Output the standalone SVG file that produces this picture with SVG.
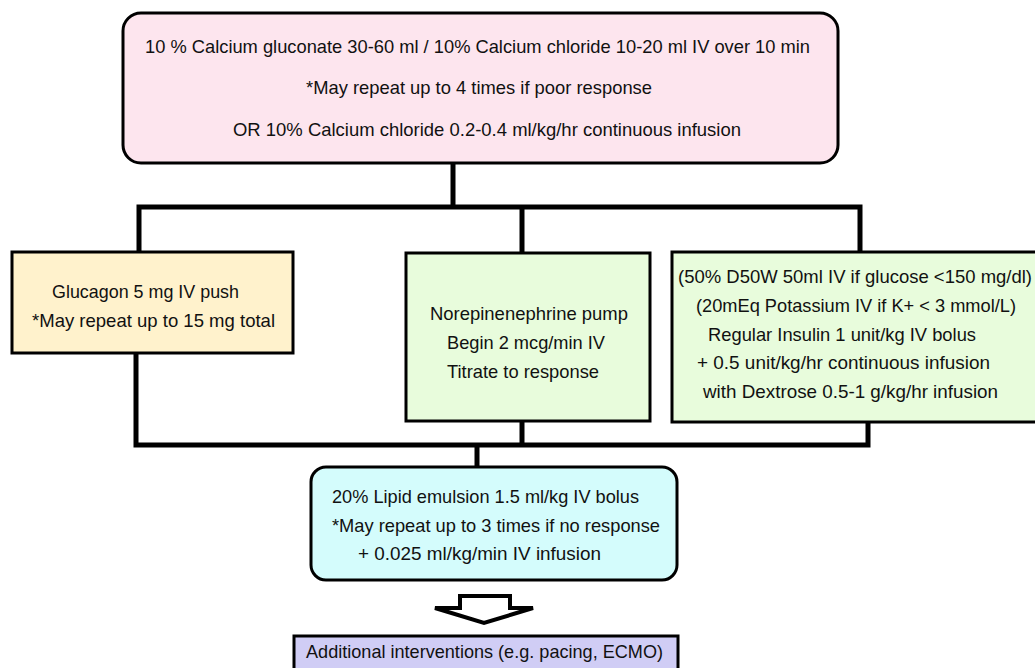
<svg xmlns="http://www.w3.org/2000/svg" width="1035" height="668" viewBox="0 0 1035 668">
<style>
text{font-family:"Liberation Sans",Arial,sans-serif;font-size:18.5px;fill:#111;}
.box{stroke:#000;stroke-width:3;}
.conn{stroke:#000;stroke-width:5;fill:none;stroke-linecap:square;}
</style>
<rect width="1035" height="668" fill="#fff"/>
<g id="connectors">
<path class="conn" d="M453,163 V207 M139,207 H860 M139,207 V252 M522,207 V252 M860,207 V251"/>
<path class="conn" d="M136,353 V445 H868 V421 M522,421 V445 M477,445 V467"/>
<polygon points="460,596 510,596 510,608 533,608 484,623 435,608 460,608" fill="#fff" stroke="#000" stroke-width="4" stroke-linejoin="miter"/>
</g>
<g id="node-calcium">
<rect class="box" x="123" y="13" width="715" height="150" rx="18" fill="#fde5ee"/>
<text x="145" y="53" textLength="665" lengthAdjust="spacingAndGlyphs">10 % Calcium gluconate 30-60 ml / 10% Calcium chloride 10-20 ml IV over 10 min</text>
<text x="306" y="94" textLength="346" lengthAdjust="spacingAndGlyphs">*May repeat up to 4 times if poor response</text>
<text x="233" y="136" textLength="508" lengthAdjust="spacingAndGlyphs">OR 10% Calcium chloride 0.2-0.4 ml/kg/hr continuous infusion</text>
</g>
<g id="node-glucagon">
<rect class="box" x="12" y="252" width="281" height="101" fill="#fff2cc"/>
<text x="52" y="298" textLength="187" lengthAdjust="spacingAndGlyphs">Glucagon 5 mg IV push</text>
<text x="32" y="327" textLength="243" lengthAdjust="spacingAndGlyphs">*May repeat up to 15 mg total</text>
</g>
<g id="node-norepinephrine">
<rect class="box" x="406" y="253" width="244" height="168" fill="#e8fcdc"/>
<text x="430" y="320" textLength="198" lengthAdjust="spacingAndGlyphs">Norepinenephrine pump</text>
<text x="447" y="349" textLength="158" lengthAdjust="spacingAndGlyphs">Begin 2 mcg/min IV</text>
<text x="447" y="378" textLength="152" lengthAdjust="spacingAndGlyphs">Titrate to response</text>
</g>
<g id="node-insulin">
<rect class="box" x="672" y="252" width="370" height="170" fill="#e8fcdc"/>
<text x="678" y="283" textLength="354" lengthAdjust="spacingAndGlyphs">(50% D50W 50ml IV if glucose &lt;150 mg/dl)</text>
<text x="696" y="312" textLength="320" lengthAdjust="spacingAndGlyphs">(20mEq Potassium IV if K+ &lt; 3 mmol/L)</text>
<text x="708" y="341" textLength="268" lengthAdjust="spacingAndGlyphs">Regular Insulin 1 unit/kg IV bolus</text>
<text x="697" y="369" textLength="293" lengthAdjust="spacingAndGlyphs">+ 0.5 unit/kg/hr continuous infusion</text>
<text x="703" y="398" textLength="295" lengthAdjust="spacingAndGlyphs">with Dextrose 0.5-1 g/kg/hr infusion</text>
</g>
<g id="node-lipid">
<rect class="box" x="311" y="467" width="366" height="113" rx="15" fill="#d4fcfc"/>
<text x="332" y="503" textLength="307" lengthAdjust="spacingAndGlyphs">20% Lipid emulsion 1.5 ml/kg IV bolus</text>
<text x="332" y="532" textLength="328" lengthAdjust="spacingAndGlyphs">*May repeat up to 3 times if no response</text>
<text x="358" y="560" textLength="243" lengthAdjust="spacingAndGlyphs">+ 0.025 ml/kg/min IV infusion</text>
</g>
<g id="node-additional">
<rect class="box" x="294" y="636" width="384" height="40" fill="#d0cdf5"/>
<text x="306" y="658" textLength="357" lengthAdjust="spacingAndGlyphs">Additional interventions (e.g. pacing, ECMO)</text>
</g>
</svg>
